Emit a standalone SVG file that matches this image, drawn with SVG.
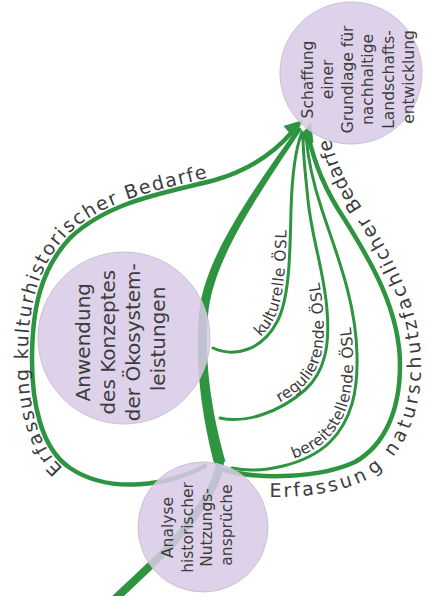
<svg xmlns="http://www.w3.org/2000/svg" xmlns:xlink="http://www.w3.org/1999/xlink" width="430" height="596" viewBox="0 0 430 596">
<style>
.ln{fill:none;stroke:#2e9440;stroke-linecap:round}
.loop{stroke-width:4.5}
.osl{stroke-width:3}
.thick{fill:#2e9440}
.ah{fill:#2e9440}
.lbl{font-family:"DejaVu Sans",sans-serif;fill:#3c3c3c}
.big{font-size:19px;letter-spacing:1.4px}
.small{font-size:15.5px;letter-spacing:0.6px}
.node circle{fill:#d8cbe6;fill-opacity:0.86;stroke:#c8c2d0;stroke-width:1}
.node text{font-family:"DejaVu Sans",sans-serif;fill:#3c3c3c;text-anchor:middle}
</style>
<defs>
<path id="pLeft" d="M205,466 C170,485 110,495 70,468 C40,448 32,400 32,360 C32,310 40,270 70,238 C110,200 170,192 215,180 C250,170 275,152 293,131"/>
<path id="pRight" d="M224,470 C260,480 320,478 355,462 C385,445 400,410 400,365 C400,310 370,260 345,220 C325,190 315,165 308,135"/>
<path id="pKult" d="M213,348 C235,358 262,350 277,322 C290,298 290,250 291,210 C292,175 295,150 302,132"/>
<path id="pReg" d="M220,418 C245,424 280,412 305,390 C325,372 330,345 327,310 C324,270 312,240 308,200 C305,170 303,155 303,136"/>
<path id="pBer" d="M232,468 C260,474 305,466 330,442 C352,420 358,390 357,355 C356,300 335,250 322,210 C312,180 308,160 306,136"/>
</defs>
<g id="connectors">
<path class="ln" style="stroke-width:8" d="M116,598 C140,575 175,545 195,515 C210,495 218,478 220,463"/>
<path class="thick" d="M214.5,464.5 C202.9,421.7 193.3,359.3 199.5,309.3 C205.6,259.4 247,197.9 298.2,126.8 L301.9,129.2 C253,202.1 214.4,260.6 208.5,310.7 C202.7,360.7 213.1,418.3 225.5,461.5 Z"/>
<use xlink:href="#pLeft" class="ln loop"/>
<use xlink:href="#pRight" class="ln loop"/>
<use xlink:href="#pKult" class="ln osl"/>
<use xlink:href="#pReg" class="ln osl"/>
<use xlink:href="#pBer" class="ln osl"/>
<path class="ah" d="M303,120 L294,138.5 L283.5,126 Z"/>
<path class="ah" d="M311,122 L313.5,143 L298.5,138.5 Z"/>
<text class="lbl big" dy="-4"><textPath xlink:href="#pLeft" startOffset="146">Erfassung kulturhistorischer Bedarfe</textPath></text>
<text class="lbl big" dy="21"><textPath xlink:href="#pRight" startOffset="46">Erfassung naturschutzfachlicher Bedarfe</textPath></text>
<text class="lbl small" dy="-4"><textPath xlink:href="#pKult" startOffset="54">kulturelle ÖSL</textPath></text>
<text class="lbl small" dy="-4"><textPath xlink:href="#pReg" startOffset="64">regulierende ÖSL</textPath></text>
<text class="lbl small" dy="-4"><textPath xlink:href="#pBer" startOffset="64">bereitstellende ÖSL</textPath></text>
</g>
<g id="node-schaffung" class="node">
<circle cx="351" cy="73" r="71"/>
<text font-size="15.5" transform="translate(351,73) rotate(-90)">
<tspan x="-4" y="-38.5">Schaffung</tspan>
<tspan x="-4" y="-18.2">einer</tspan>
<tspan x="-4" y="2.1">Grundlage für</tspan>
<tspan x="-4" y="22.4">nachhaltige</tspan>
<tspan x="-4" y="42.7">Landschafts-</tspan>
<tspan x="-4" y="63">entwicklung</tspan>
</text>
</g>
<g id="node-anwendung" class="node">
<circle cx="124" cy="338" r="86"/>
<text font-size="20" transform="translate(124,338) rotate(-90)">
<tspan x="-1" y="-34">Anwendung</tspan>
<tspan x="-1" y="-9">des Konzeptes</tspan>
<tspan x="-1" y="16">der Ökosystem-</tspan>
<tspan x="-1" y="41">leistungen</tspan>
</text>
</g>
<g id="node-analyse" class="node">
<circle cx="203" cy="527" r="65"/>
<text font-size="15.5" transform="translate(203,527) rotate(-90)">
<tspan x="2" y="-30">Analyse</tspan>
<tspan x="2" y="-10.5">historischer</tspan>
<tspan x="2" y="9">Nutzungs-</tspan>
<tspan x="2" y="28.5">ansprüche</tspan>
</text>
</g>
</svg>
